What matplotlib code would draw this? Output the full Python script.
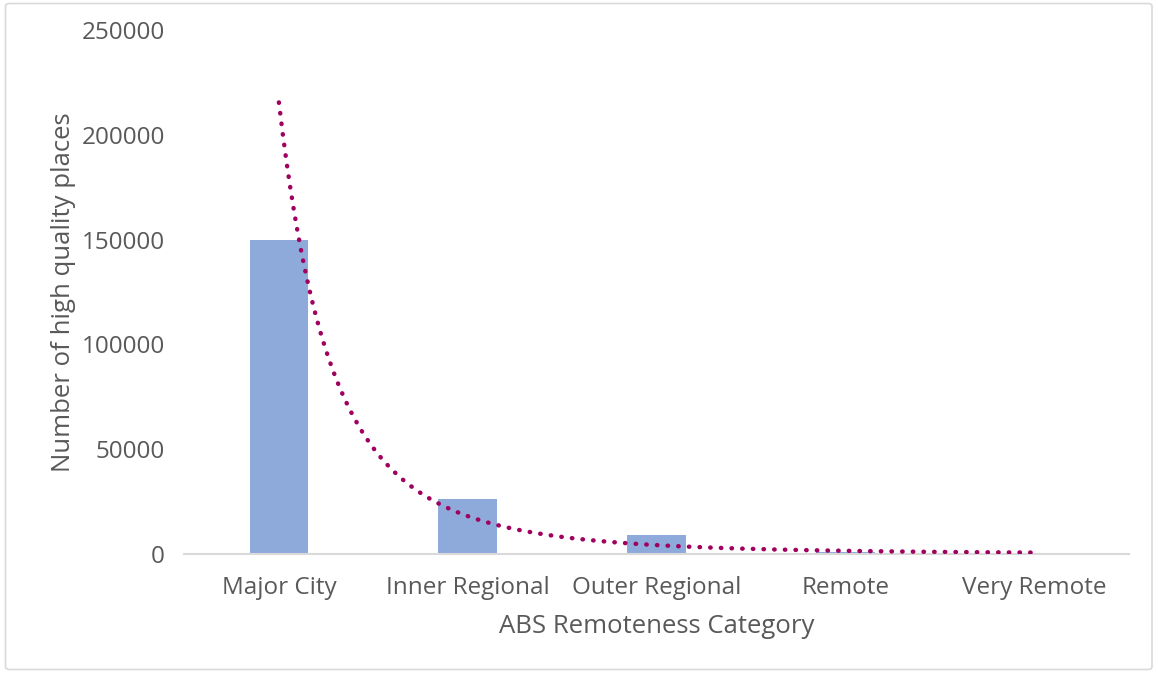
import numpy as np
import matplotlib
matplotlib.use("Agg")
import matplotlib.pyplot as plt
from matplotlib.patches import FancyBboxPatch

categories = ["Major City", "Inner Regional", "Outer Regional", "Remote", "Very Remote"]
places = [149600, 26200, 9100, 800, 600]
y_ticks = [0, 50000, 100000, 150000, 200000, 250000]

bar_color = "#8EAADB"
trend_color = "#A0005E"
text_color = "#595959"

plt.rcParams["font.family"] = ["Open Sans", "DejaVu Sans"]

fig = plt.figure(figsize=(11.58, 6.73), dpi=100)
W, H = 1158, 673
ax = fig.add_axes([184.5 / W, 119 / H, (1128.5 - 184.5) / W, (643 - 119) / H])

x = np.arange(len(categories))
ax.bar(x, places, width=0.31, color=bar_color, zorder=2)

# Power trendline fitted on category rank (1..5)
rank = x + 1.0
b, ln_a = np.polyfit(np.log(rank), np.log(places), 1)
xs = np.linspace(1, len(categories), 400)
ax.plot(xs - 1, np.exp(ln_a) * xs ** b, color=trend_color, linestyle=(0, (0.1, 2.3)),
        linewidth=3.2, dash_capstyle="round", zorder=3)

ax.set_xlim(-0.5, len(categories) - 0.5)
ax.set_ylim(0, 250000)
ax.set_yticks(y_ticks)
ax.set_yticklabels([str(v) for v in y_ticks])
ax.set_xticks(x)
ax.set_xticklabels(categories)
ax.tick_params(axis="both", length=0, colors=text_color, labelsize=17.5)
ax.tick_params(axis="y", pad=14)
ax.tick_params(axis="x", pad=16)

for side in ["top", "right", "left"]:
    ax.spines[side].set_visible(False)
ax.spines["bottom"].set_color("#D9D9D9")
ax.spines["bottom"].set_linewidth(1.5)

ax.set_xlabel("ABS Remoteness Category", fontsize=18.5, color=text_color, labelpad=10)
ax.set_ylabel("Number of high quality places", fontsize=18.5, color=text_color, labelpad=4)

# Chart area border
frame = FancyBboxPatch((5.5 / W, 3.5 / H), (1152 - 5.5) / W, (669.5 - 3.5) / H,
                       boxstyle="round,pad=0,rounding_size=0.004",
                       transform=fig.transFigure, facecolor="none",
                       edgecolor="#D9D9D9", linewidth=1.2)
fig.patches.append(frame)

fig.savefig("out.png", dpi=100, facecolor="white")
